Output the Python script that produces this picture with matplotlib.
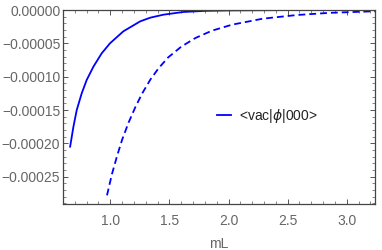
import matplotlib
matplotlib.use("Agg")
import matplotlib.pyplot as plt
from matplotlib.ticker import MultipleLocator, FuncFormatter

plt.rcParams['font.family'] = ['Liberation Sans', 'DejaVu Sans']
plt.rcParams['mathtext.fontset'] = 'dejavusans'

# solid curve: <vac|phi|000>
mL_solid = [0.660, 0.688, 0.716, 0.758, 0.800, 0.857, 0.927, 0.997, 1.110,
            1.253, 1.338, 1.45, 1.616, 1.80, 2.01, 2.50, 3.24]
val_solid = [-20.5e-5, -17.5e-5, -15.0e-5, -12.5e-5, -10.5e-5, -8.5e-5, -6.5e-5,
             -5.0e-5, -3.2e-5, -1.7e-5, -1.15e-5, -0.7e-5, -0.3e-5, -0.13e-5,
             -0.06e-5, -0.01e-5, 0.0]

# dashed curve
mL_dash = [0.972, 1.014, 1.057, 1.099, 1.154, 1.211, 1.27, 1.34, 1.41, 1.49,
           1.60, 1.72, 1.86, 2.03, 2.29, 2.58, 2.86, 3.22, 3.24]
val_dash = [-27.8e-5, -24.6e-5, -21.9e-5, -19.5e-5, -16.9e-5, -14.6e-5, -12.5e-5,
            -10.4e-5, -8.7e-5, -7.1e-5, -5.5e-5, -4.2e-5, -3.1e-5, -2.2e-5,
            -1.3e-5, -0.75e-5, -0.42e-5, -0.2e-5, -0.19e-5]

fig = plt.figure(figsize=(3.82, 2.5), dpi=100)
ax = fig.add_axes([0.165, 0.184, 0.817, 0.776])

ax.plot(mL_solid, val_solid, color='#0000ff', lw=1.3, label=r'<vac|$\phi$|000>')
ax.plot(mL_dash, val_dash, color='#0000ff', lw=1.3, dashes=(3.8, 2.2))

ax.set_xlim(0.6, 3.24)
ax.set_ylim(-0.000291, 0.0)

ax.xaxis.set_major_locator(MultipleLocator(0.5))
ax.xaxis.set_minor_locator(MultipleLocator(0.1))
ax.yaxis.set_major_locator(MultipleLocator(0.00005))
ax.yaxis.set_minor_locator(MultipleLocator(0.00001))
ax.xaxis.set_major_formatter(FuncFormatter(lambda v, p: '%.1f' % v))
ax.yaxis.set_major_formatter(FuncFormatter(
    lambda v, p: ('%.5f' % abs(v)) if abs(v) < 1e-12 else ('%.5f' % v).replace('-', '\u2212')))

ax.tick_params(which='both', direction='in', top=True, right=True,
               color='#555555', labelcolor='#666666', labelsize=10)
ax.tick_params(axis='x', which='major', pad=7)
ax.tick_params(axis='y', which='major', pad=2)
ax.tick_params(which='major', length=3.5, width=0.7)
ax.tick_params(which='minor', length=2, width=0.5)
for s in ax.spines.values():
    s.set_color('#444444')
    s.set_linewidth(0.9)

ax.set_xlabel('mL', fontsize=10, color='#666666', labelpad=7)

ax.legend(loc='center left', bbox_to_anchor=(0.494, 0.454), frameon=False,
          fontsize=10, handlelength=1.0, handletextpad=0.6, borderpad=0,
          borderaxespad=0, labelcolor='#222222')

fig.savefig('out.png', dpi=100)
